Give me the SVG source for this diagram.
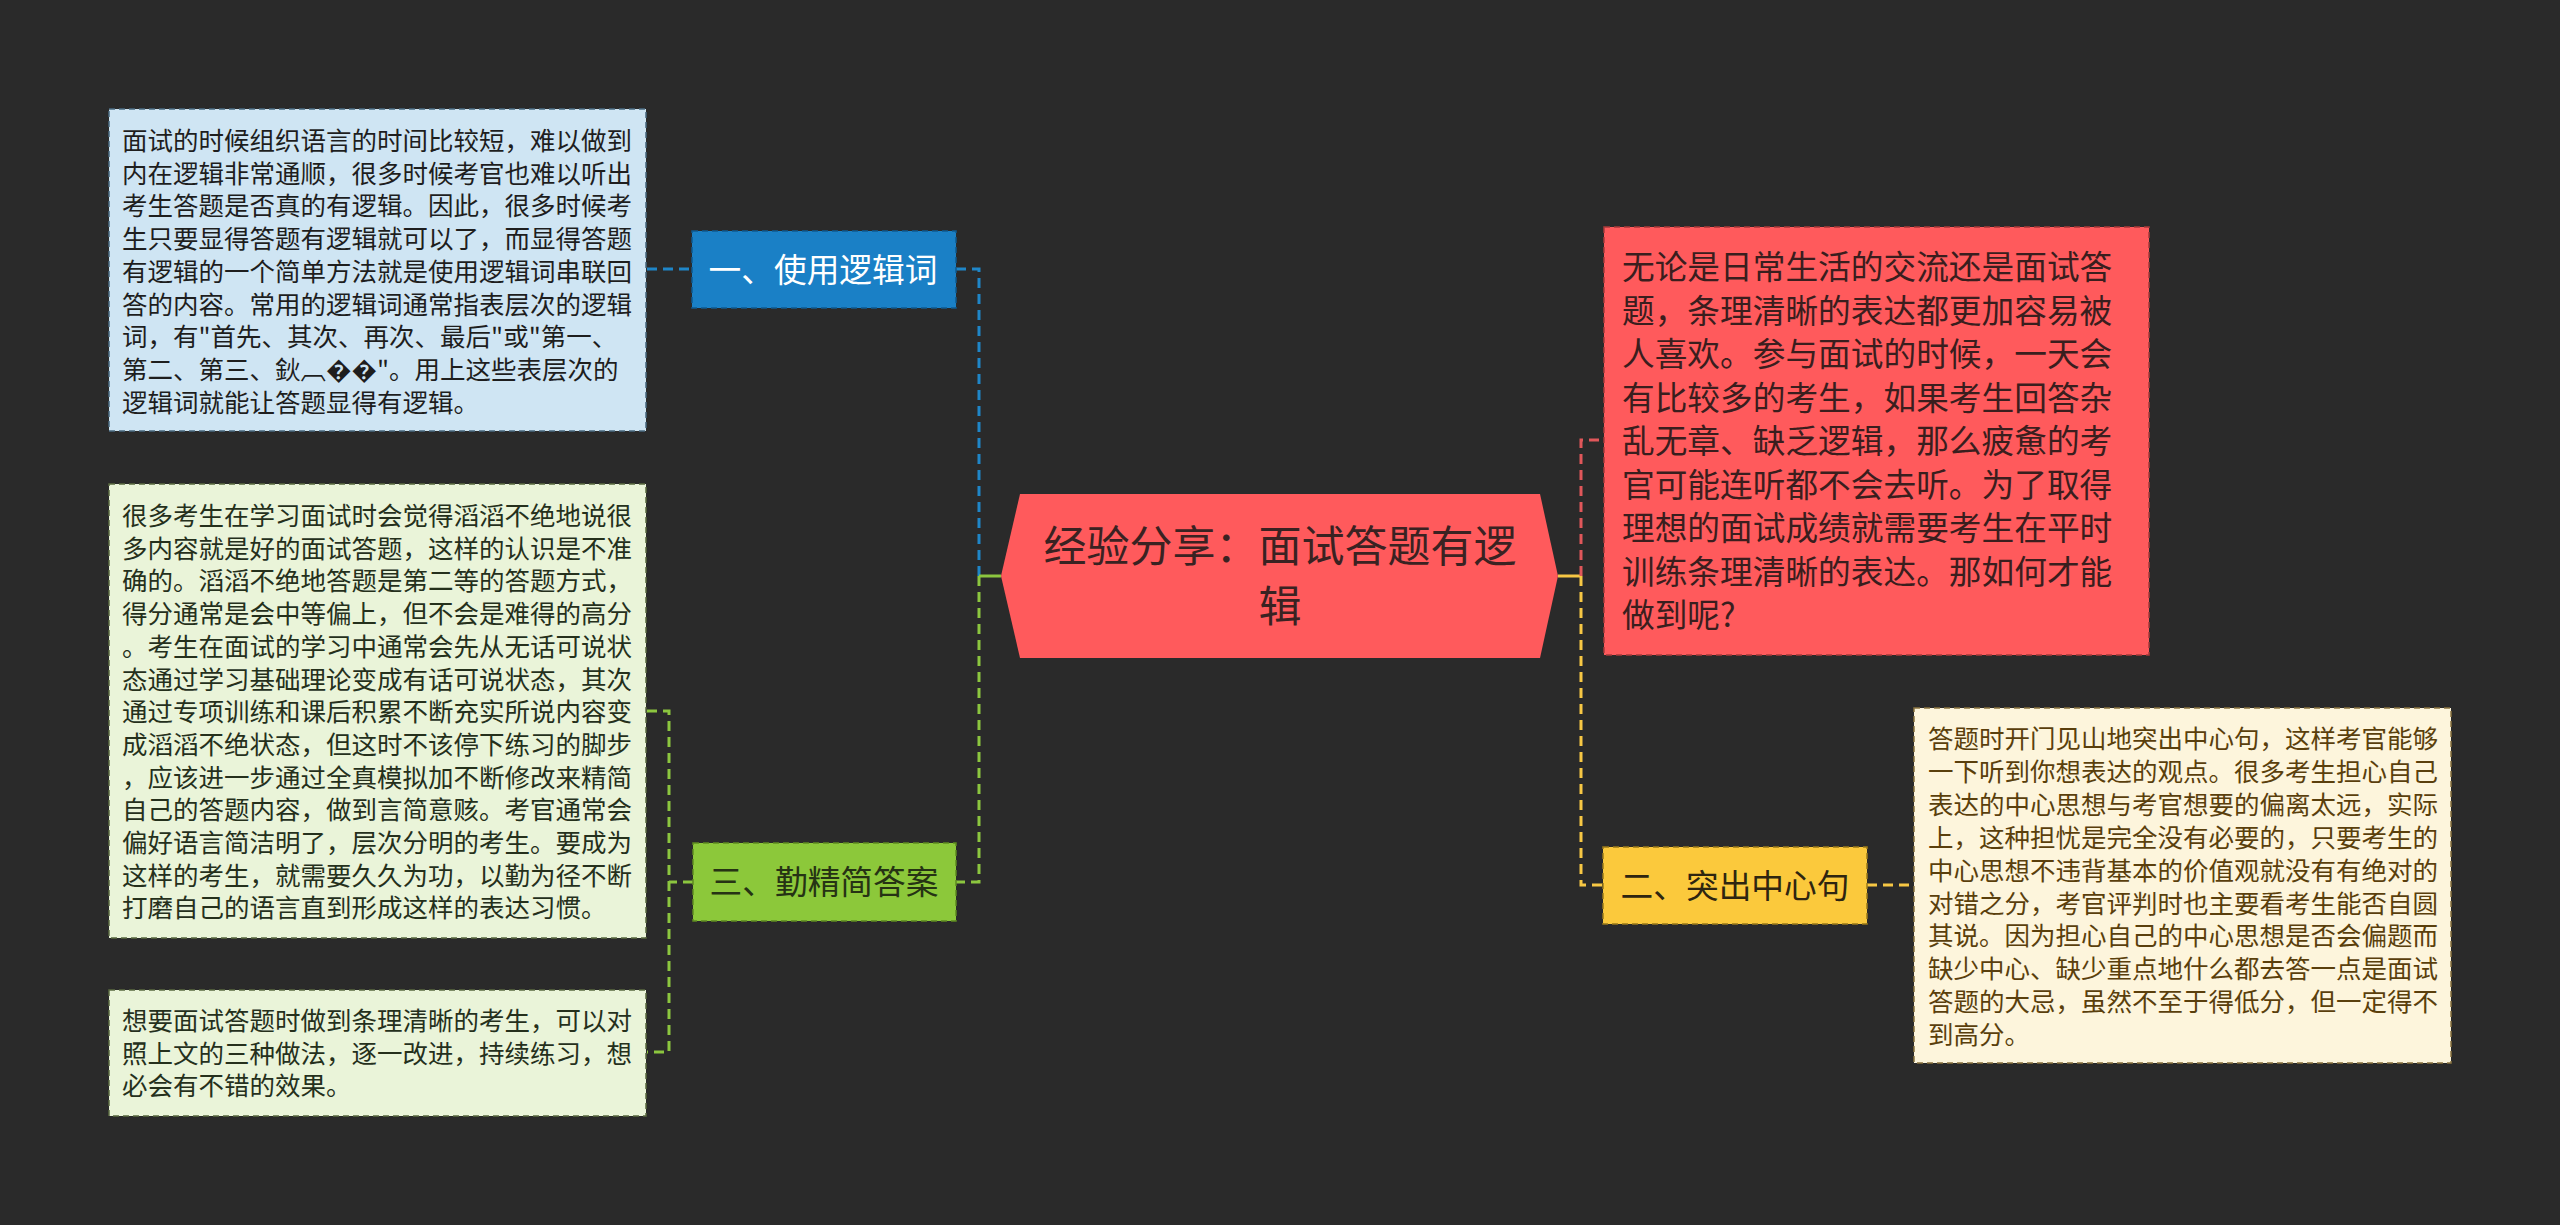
<svg xmlns="http://www.w3.org/2000/svg" width="2560" height="1225" viewBox="0 0 2560 1225">
<style>
.t{font-family:"Noto Sans CJK SC","Noto Sans",sans-serif;}
.s{font-size:25.5px;}
.conn{fill:none;stroke-width:3;stroke-dasharray:10 6;}
.solid{fill:none;stroke-width:3;}
.bd{stroke-width:1.5;stroke-dasharray:6 4;}
</style>
<rect x="0" y="0" width="2560" height="1225" fill="#2a2a2a"/>
<g id="connectors">
  <path class="conn" stroke="#1f86c8" d="M647,269 H692"/>
  <path class="conn" stroke="#1f86c8" d="M956,269 H979 V576"/>
  <path class="solid" stroke="#8cc63f" d="M1001,576 H979"/>
  <path class="conn" stroke="#8cc63f" d="M979,576 V882 H956"/>
  <path class="conn" stroke="#8cc63f" d="M693,882 H669"/>
  <path class="conn" stroke="#8cc63f" d="M647,711 H669 V1052 H647"/>
  <path class="solid" stroke="#f7c744" d="M1558,576 H1581"/>
  <path class="conn" stroke="#e0575a" d="M1581,576 V440 H1604"/>
  <path class="conn" stroke="#f7c744" d="M1581,576 V885 H1603"/>
  <path class="conn" stroke="#f7c744" d="M1867,885 H1913"/>
</g>
<g id="center">
  <polygon points="1020,494 1540,494 1558,576 1540,658 1020,658 1001,576" fill="#ff5a5c"/>
  <text class="t" font-size="43" fill="#3a2222" text-anchor="middle"><tspan x="1280" y="562">经验分享：面试答题有逻</tspan><tspan x="1280" y="622">辑</tspan></text>
</g>
<g id="topic1">
  <rect class="bd" x="692" y="231" width="264" height="77" fill="#1a80c6" stroke="#0f5a90"/>
  <text class="t" font-size="32.7" fill="#ffffff" text-anchor="middle" x="823" y="282">一、使用逻辑词</text>
</g>
<g id="topic3">
  <rect class="bd" x="693" y="843" width="263" height="78" fill="#8cc83a" stroke="#5e8a20"/>
  <text class="t" font-size="32.7" fill="#263314" text-anchor="middle" x="824" y="894">三、勤精简答案</text>
</g>
<g id="topic2">
  <rect class="bd" x="1603" y="847" width="264" height="77" fill="#fbc93c" stroke="#9a7a1a"/>
  <text class="t" font-size="32.7" fill="#2e2510" text-anchor="middle" x="1735" y="898">二、突出中心句</text>
</g>
<g id="note-blue">
  <rect class="bd" x="109" y="109" width="537" height="322" fill="#cfe5f3" stroke="#4a6a80"/>
  <text class="t s" fill="#1e1e1e">
    <tspan x="122" y="150">面试的时候组织语言的时间比较短，难以做到</tspan>
    <tspan x="122" y="182.7">内在逻辑非常通顺，很多时候考官也难以听出</tspan>
    <tspan x="122" y="215.4">考生答题是否真的有逻辑。因此，很多时候考</tspan>
    <tspan x="122" y="248.1">生只要显得答题有逻辑就可以了，而显得答题</tspan>
    <tspan x="122" y="280.8">有逻辑的一个简单方法就是使用逻辑词串联回</tspan>
    <tspan x="122" y="313.5">答的内容。常用的逻辑词通常指表层次的逻辑</tspan>
    <tspan x="122" y="346.2">词，有"首先、其次、再次、最后"或"第一、</tspan>
    <tspan x="122" y="378.9">第二、第三、鈥︹��"。用上这些表层次的</tspan>
    <tspan x="122" y="411.6">逻辑词就能让答题显得有逻辑。</tspan>
  </text>
</g>
<g id="note-green1">
  <rect class="bd" x="109" y="484" width="537" height="454" fill="#eaf4d9" stroke="#5a6a40"/>
  <text class="t s" fill="#25301c">
    <tspan x="122" y="525">很多考生在学习面试时会觉得滔滔不绝地说很</tspan>
    <tspan x="122" y="557.7">多内容就是好的面试答题，这样的认识是不准</tspan>
    <tspan x="122" y="590.4">确的。滔滔不绝地答题是第二等的答题方式，</tspan>
    <tspan x="122" y="623.1">得分通常是会中等偏上，但不会是难得的高分</tspan>
    <tspan x="122" y="655.8">。考生在面试的学习中通常会先从无话可说状</tspan>
    <tspan x="122" y="688.5">态通过学习基础理论变成有话可说状态，其次</tspan>
    <tspan x="122" y="721.2">通过专项训练和课后积累不断充实所说内容变</tspan>
    <tspan x="122" y="753.9">成滔滔不绝状态，但这时不该停下练习的脚步</tspan>
    <tspan x="122" y="786.6">，应该进一步通过全真模拟加不断修改来精简</tspan>
    <tspan x="122" y="819.3">自己的答题内容，做到言简意赅。考官通常会</tspan>
    <tspan x="122" y="852">偏好语言简洁明了，层次分明的考生。要成为</tspan>
    <tspan x="122" y="884.7">这样的考生，就需要久久为功，以勤为径不断</tspan>
    <tspan x="122" y="917.4">打磨自己的语言直到形成这样的表达习惯。</tspan>
  </text>
</g>
<g id="note-green2">
  <rect class="bd" x="109" y="990" width="537" height="126" fill="#eaf4d9" stroke="#5a6a40"/>
  <text class="t s" fill="#25301c">
    <tspan x="122" y="1030">想要面试答题时做到条理清晰的考生，可以对</tspan>
    <tspan x="122" y="1062.7">照上文的三种做法，逐一改进，持续练习，想</tspan>
    <tspan x="122" y="1095.4">必会有不错的效果。</tspan>
  </text>
</g>
<g id="note-red">
  <rect class="bd" x="1604" y="227" width="545" height="428" fill="#ff5a5c" stroke="#a83a3a"/>
  <text class="t" font-size="32.7" fill="#3a1e1e">
    <tspan x="1622" y="279">无论是日常生活的交流还是面试答</tspan>
    <tspan x="1622" y="322.5">题，条理清晰的表达都更加容易被</tspan>
    <tspan x="1622" y="366">人喜欢。参与面试的时候，一天会</tspan>
    <tspan x="1622" y="409.5">有比较多的考生，如果考生回答杂</tspan>
    <tspan x="1622" y="453">乱无章、缺乏逻辑，那么疲惫的考</tspan>
    <tspan x="1622" y="496.5">官可能连听都不会去听。为了取得</tspan>
    <tspan x="1622" y="540">理想的面试成绩就需要考生在平时</tspan>
    <tspan x="1622" y="583.5">训练条理清晰的表达。那如何才能</tspan>
    <tspan x="1622" y="627">做到呢?</tspan>
  </text>
</g>
<g id="note-yellow">
  <rect class="bd" x="1914" y="708" width="537" height="355" fill="#fdf5dc" stroke="#8a7440"/>
  <text class="t s" fill="#5a3f0c">
    <tspan x="1928" y="748">答题时开门见山地突出中心句，这样考官能够</tspan>
    <tspan x="1928" y="780.9">一下听到你想表达的观点。很多考生担心自己</tspan>
    <tspan x="1928" y="813.8">表达的中心思想与考官想要的偏离太远，实际</tspan>
    <tspan x="1928" y="846.7">上，这种担忧是完全没有必要的，只要考生的</tspan>
    <tspan x="1928" y="879.6">中心思想不违背基本的价值观就没有有绝对的</tspan>
    <tspan x="1928" y="912.5">对错之分，考官评判时也主要看考生能否自圆</tspan>
    <tspan x="1928" y="945.4">其说。因为担心自己的中心思想是否会偏题而</tspan>
    <tspan x="1928" y="978.3">缺少中心、缺少重点地什么都去答一点是面试</tspan>
    <tspan x="1928" y="1011.2">答题的大忌，虽然不至于得低分，但一定得不</tspan>
    <tspan x="1928" y="1044.1">到高分。</tspan>
  </text>
</g>
</svg>
